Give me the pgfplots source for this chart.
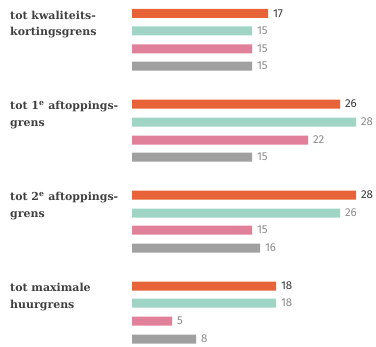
\documentclass[border=0pt]{standalone}
\usepackage{fontspec}
\setmainfont{DejaVu Serif}
\newfontfamily\numfont{Fira Sans}
\usepackage{pgfplots}
\pgfplotsset{compat=1.18}
\definecolor{c1}{RGB}{232,100,56}
\definecolor{c2}{RGB}{160,212,196}
\definecolor{c3}{RGB}{224,128,155}
\definecolor{c4}{RGB}{160,160,160}
\definecolor{labc}{RGB}{64,64,64}
\definecolor{numdark}{RGB}{55,55,55}
\definecolor{numlight}{RGB}{140,140,140}
\begin{document}
\begin{tikzpicture}
\useasboundingbox (0,0) rectangle (376bp,347bp);
\clip (0,0) rectangle (376bp,347bp);
\begin{axis}[at={(0,0)}, anchor=south west, scale only axis,
  width=376bp, height=347bp,
  xmin=-16.5, xmax=30.5, ymin=0, ymax=347, y dir=reverse,
  axis lines=none, xbar, bar width=9bp, bar shift=0pt, clip=false,
  nodes near coords, point meta=x,
  /pgf/number format/assume math mode=true,
  nodes near coords style={anchor=west, font=\numfont\fontsize{11.5}{11.5}\selectfont, xshift=1.5bp}]
\addplot[draw=none, fill=c1, every node near coord/.append style={text=numdark}] coordinates {(17,13.5) (26,104) (28,195) (18,286)};
\addplot[draw=none, fill=c2, every node near coord/.append style={text=numlight}] coordinates {(15,31) (28,122) (26,213) (18,303)};
\addplot[draw=none, fill=c3, every node near coord/.append style={text=numlight}] coordinates {(15,49) (22,140) (15,230) (5,321)};
\addplot[draw=none, fill=c4, every node near coord/.append style={text=numlight}] coordinates {(15,66) (15,157) (16,248) (8,339)};
\begin{scope}[every node/.style={anchor=north west, align=left, inner sep=0pt, text=labc, font=\bfseries\fontsize{11}{17}\selectfont}]
\node at (axis cs:-15.25,10.5) {tot kwaliteits-\\kortingsgrens};
\node at (axis cs:-15.25,101) {tot 1\textsuperscript{e} aftoppings-\\grens};
\node at (axis cs:-15.25,192) {tot 2\textsuperscript{e} aftoppings-\\grens};
\node at (axis cs:-15.25,283) {tot maximale\\huurgrens};
\end{scope}
\end{axis}
\end{tikzpicture}
\end{document}
